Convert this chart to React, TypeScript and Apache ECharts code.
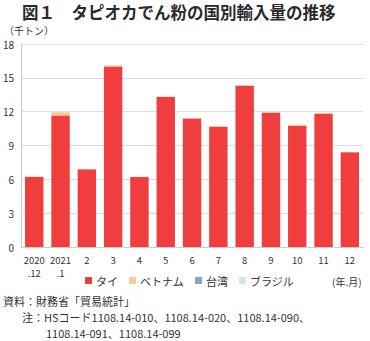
import React, { useEffect, useRef } from "react";
import * as echarts from "echarts";

const categories = ["2020\n.12", "2021\n.1", "2", "3", "4", "5", "6", "7", "8", "9", "10", "11", "12"];
const thai = [6.2, 11.65, 6.9, 16.0, 6.2, 13.3, 11.4, 10.65, 14.3, 11.9, 10.75, 11.8, 8.4];
const vietnam = [0.05, 0.3, 0.02, 0.12, 0.02, 0.04, 0.03, 0.08, 0.05, 0.05, 0.1, 0.1, 0.02];
const taiwan = [0, 0, 0, 0, 0, 0, 0, 0, 0, 0, 0, 0, 0];
const brazil = [0, 0, 0, 0, 0, 0, 0, 0, 0, 0, 0, 0, 0];
const seriesNames = ["タイ", "ベトナム", "台湾", "ブラジル"];
const seriesColors = ["#F03E3E", "#F9C99A", "#8AA2D0", "#CFE6EE"];

const FONT = "'Noto Sans CJK JP', 'Noto Sans', sans-serif";

export default function App() {
  const ref = useRef<HTMLDivElement>(null);
  useEffect(() => {
    if (!ref.current) return;
    const chart = echarts.init(ref.current, undefined, { renderer: "svg" });
    const data = [thai, vietnam, taiwan, brazil];
    chart.setOption({
      animation: false,
      textStyle: { fontFamily: FONT },
      grid: { left: 21, right: 7, top: 44, bottom: 94, containLabel: false },
      legend: {
        data: seriesNames,
        left: 85,
        top: 275,
        padding: 0,
        itemWidth: 7,
        itemHeight: 7,
        itemGap: 11,
        icon: "rect",
        textStyle: { fontSize: 11, color: "#333", fontFamily: FONT, padding: [0, 0, 0, -1] },
      },
      xAxis: {
        type: "category",
        data: categories,
        axisLine: { show: true, lineStyle: { color: "#ccc" } },
        axisTick: { show: false },
        axisLabel: { fontSize: 9.5, color: "#333", lineHeight: 13, margin: 6, interval: 0 },
      },
      yAxis: {
        type: "value",
        min: 0,
        max: 18,
        interval: 3,
        axisLine: { show: true, lineStyle: { color: "#ccc" } },
        axisTick: { show: false },
        axisLabel: { fontSize: 10, color: "#333", margin: 7, lineHeight: 10 },
        splitLine: { lineStyle: { color: "#ddd", width: 1 } },
      },
      series: seriesNames.map((name, i) => ({
        name,
        type: "bar",
        stack: "total",
        barWidth: "70%",
        data: data[i],
        itemStyle: { color: seriesColors[i] },
      })),
      graphic: [
        {
          type: "text",
          left: 22,
          top: 2,
          style: {
            text: "図１　タピオカでん粉の国別輸入量の推移",
            fontSize: 16.5,
            lineHeight: 19,
            fontWeight: "bold",
            fill: "#2a2a2a",
            fontFamily: FONT,
          },
        },
        {
          type: "text",
          left: 4,
          top: 25,
          style: { text: "（千トン）", fontSize: 10, lineHeight: 10, fill: "#333", fontFamily: FONT },
        },
        {
          type: "text",
          left: 332,
          top: 276,
          style: { text: "(年.月)", fontSize: 10, fill: "#333", fontFamily: FONT },
        },
        {
          type: "text",
          left: 3,
          top: 295,
          style: { text: "資料：財務省「貿易統計」", fontSize: 11, fill: "#333", fontFamily: FONT },
        },
        {
          type: "text",
          left: 22,
          top: 311,
          style: {
            text: "注：HSコード1108.14-010、1108.14-020、1108.14-090、",
            fontSize: 11,
            fill: "#333",
            fontFamily: FONT,
          },
        },
        {
          type: "text",
          left: 46,
          top: 327,
          style: { text: "1108.14-091、1108.14-099", fontSize: 11, fill: "#333", fontFamily: FONT },
        },
      ],
    });
    return () => chart.dispose();
  }, []);
  return <div ref={ref} style={{ width: 370, height: 341, position: "absolute", left: 0, top: 0 }} />;
}
